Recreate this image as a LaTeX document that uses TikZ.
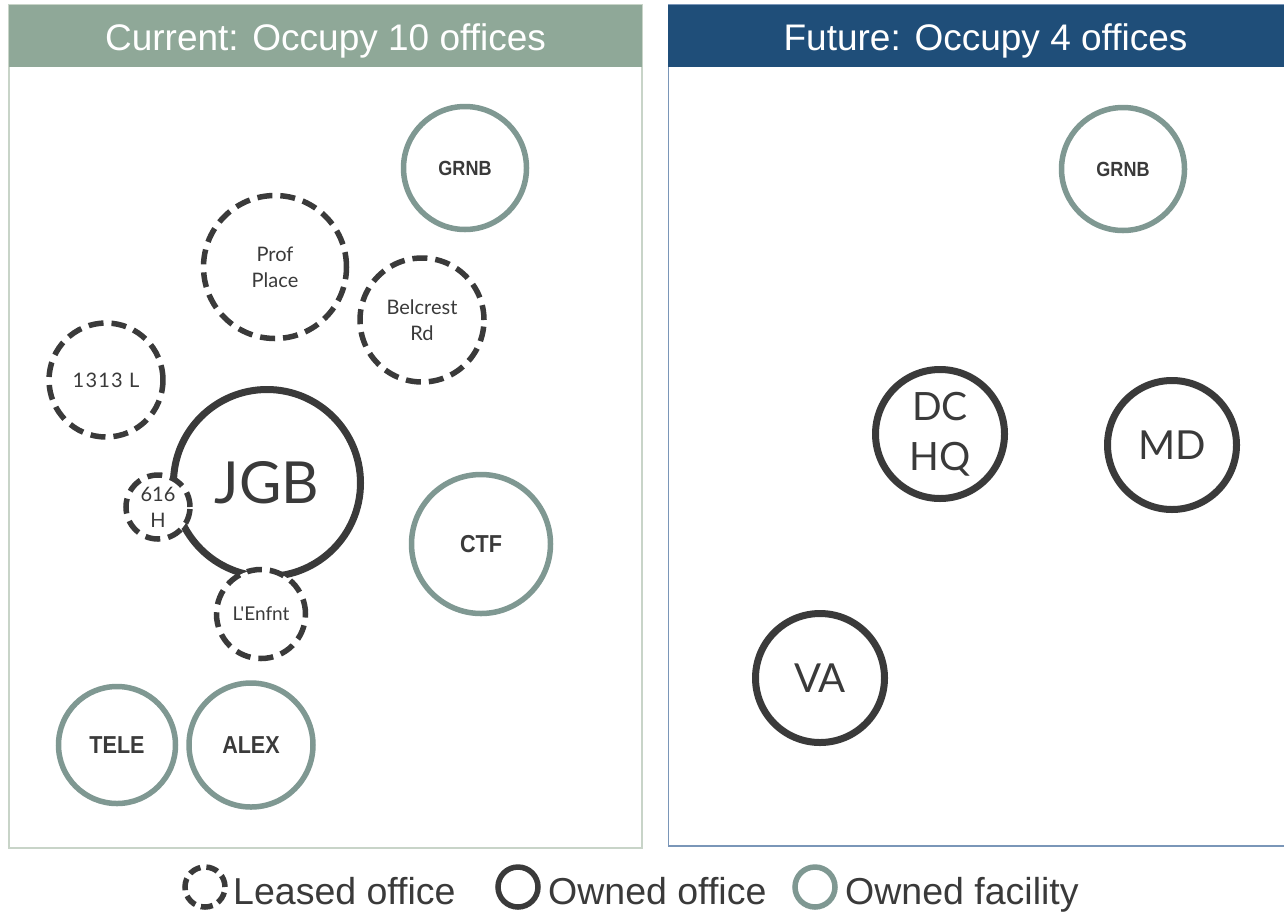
\documentclass[tikz,border=0pt]{standalone}
\usepackage{fontspec}
\setmainfont{Liberation Sans}
\newfontfamily\lbl{Lato}
\newfontfamily\lblsp{Lato}[LetterSpace=6]
\newfontfamily\lblb{Liberation Sans}[FakeStretch=0.88]
\definecolor{hdrgreen}{RGB}{143,168,152}
\definecolor{hdrblue}{RGB}{31,78,121}
\definecolor{facility}{RGB}{127,152,146}
\definecolor{darkc}{RGB}{58,58,58}
\definecolor{lborder}{RGB}{200,212,200}
\definecolor{rborder}{RGB}{122,150,184}
\tikzset{
  office/.style={circle, draw=darkc, line width=7pt, fill=white, inner sep=0pt, text=darkc, align=center},
  facil/.style={circle, draw=facility, line width=5.5pt, fill=white, inner sep=0pt, text=darkc, align=center, font=\lblb\bfseries\fontsize{24.5}{28}\selectfont},
  leased/.style={circle, draw=darkc, line width=5.5pt, dash pattern=on 15pt off 8pt, fill=white, inner sep=0pt, text=darkc, align=center, font=\lbl\fontsize{20}{26}\selectfont},
  hdr/.style={text=white, font=\fontsize{37}{40}\selectfont, anchor=base, inner sep=0pt},
  legtext/.style={text=darkc, font=\fontsize{37.5}{40}\selectfont, anchor=base west, inner sep=0pt},
}
\begin{document}
\begin{tikzpicture}[x=1pt,y=-1pt]
\useasboundingbox (0,0) rectangle (1284,911);
\fill[white] (0,0) rectangle (1284,911);
% panels
\draw[lborder, line width=1.5pt] (9,5) rectangle (642,848);
\fill[hdrgreen] (9,5) rectangle (642,67);
\draw[rborder, line width=1.5pt] (668.5,5) rectangle (1300,846);
\fill[hdrblue] (668,5) rectangle (1300,67);
\node[hdr] (hl) at (325.5,50) {Current: Occupy 10 offices};
\node[hdr] (hr) at (985.5,50) {Future: Occupy 4 offices};
% left panel circles
\node[facil, minimum size=123pt, font=\lblb\bfseries\fontsize{20.5}{26}\selectfont] (grnbL) at (465,168) {GRNB};
\node[leased, minimum size=143pt] (prof) at (275,267) {Prof\\Place};
\node[leased, minimum size=124pt] (belc) at (422,320) {Belcrest\\Rd};
\node[leased, minimum size=114pt, font=\lblsp\fontsize{20}{26}\selectfont] (l1313) at (106,380) {1313 L};
\node[office, minimum size=187pt, font=\lbl\fontsize{58}{64}\selectfont] (jgb) at (267,483) {JGB};
\node[leased, minimum size=64pt] (h616) at (158,507) {616\\H};
\node[leased, minimum size=89pt, font=\lbl\fontsize{19}{24}\selectfont] (lenf) at (261,614) {L'Enfnt};
\node[facil, minimum size=139pt] (ctf) at (481,544) {CTF};
\node[facil, minimum size=117pt] (tele) at (117,745) {TELE};
\node[facil, minimum size=124pt] (alex) at (251,745) {ALEX};
% right panel circles
\node[facil, minimum size=123pt, font=\lblb\bfseries\fontsize{20.5}{26}\selectfont] (grnbR) at (1123,169) {GRNB};
\node[office, minimum size=129pt, font=\lbl\fontsize{39}{50}\selectfont] (dchq) at (940,434) {DC\\HQ};
\node[office, minimum size=129pt, font=\lbl\fontsize{40}{46}\selectfont] (md) at (1172,445) {MD};
\node[office, minimum size=129pt, font=\lbl\fontsize{40}{46}\selectfont] (va) at (820,678) {VA};
% legend
\node[circle, draw=darkc, line width=5.5pt, dash pattern=on 12pt off 6pt, inner sep=0pt, minimum size=40pt] (legL) at (205,887) {};
\node[legtext] (legLt) at (233,904) {Leased office};
\node[circle, draw=darkc, line width=5.5pt, inner sep=0pt, minimum size=40pt] (legO) at (518,887) {};
\node[legtext] (legOt) at (548,904) {Owned office};
\node[circle, draw=facility, line width=5.5pt, inner sep=0pt, minimum size=40pt] (legF) at (815,887) {};
\node[legtext] (legFt) at (845,904) {Owned facility};
\end{tikzpicture}
\end{document}
